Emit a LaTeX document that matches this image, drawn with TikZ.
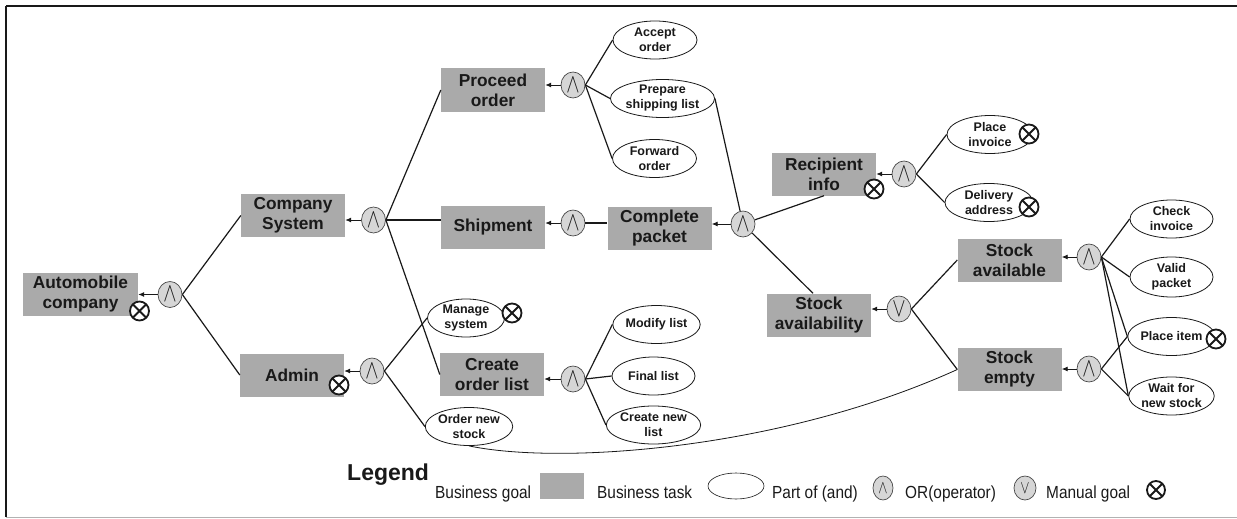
\documentclass[tikz,border=0pt]{standalone}
\usepackage{fontspec}
\usepackage{graphicx}
\setmainfont{Liberation Sans}
\newfontfamily\legendfont[FakeStretch=0.88]{Liberation Sans}
\usetikzlibrary{shapes.geometric,arrows.meta,calc}
\definecolor{goalgray}{RGB}{170,170,170}
\definecolor{opgray}{RGB}{214,214,214}
\definecolor{ink}{RGB}{25,25,25}
\newcommand\andsym{\scalebox{1.15}[1.55]{$\wedge$}}
\newcommand\orsym{\scalebox{1.15}[1.55]{$\vee$}}
\begin{document}
\begin{tikzpicture}[x=1pt,y=-1pt,
 goal/.style={rectangle, fill=goalgray, minimum width=104pt, minimum height=43pt, inner sep=0pt, align=center, text=ink, font=\fontsize{17.3}{20}\selectfont\bfseries},
 task/.style={ellipse, draw=ink, fill=white, line width=0.8pt, minimum width=84pt, minimum height=38pt, inner sep=0pt, align=center, text=ink, font=\fontsize{12.5}{15}\selectfont\bfseries},
 op/.style={ellipse, draw=ink!80, fill=opgray, line width=0.7pt, minimum width=24pt, minimum height=26pt, inner sep=0pt, text=ink, font=\fontsize{16}{16}\selectfont},
 manual/.style={circle, draw=ink, line width=1.8pt, fill=white, minimum size=19pt, inner sep=0pt, path picture={\draw[ink, line width=1.8pt] (path picture bounding box.north west) -- (path picture bounding box.south east) (path picture bounding box.north east) -- (path picture bounding box.south west);}},
 link/.style={draw=ink, line width=1.2pt},
 arr/.style={draw=ink, line width=0.9pt, -{Latex[length=6pt,width=5pt]}},
 legtext/.style={anchor=base west, inner sep=0pt, text=ink, font=\legendfont\fontsize{17.5}{20}\selectfont},
]
\useasboundingbox (0,0) rectangle (1237,519);
% frame
\draw[ink, line width=2pt] (6,6) -- (1237,6);
\draw[ink, line width=1.2pt] (6,6) -- (6,517);
\draw[gray!60, line width=0.8pt] (6,517) -- (1237,517);

% goals
\node[goal, minimum width=115pt] (auto) at (80.5,294.5) {Automobile\\company};
\node[goal] (company) at (293,215.5) {Company\\System};
\node[goal] (admin) at (292,375) {Admin};
\node[goal] (proceed) at (493,90) {Proceed\\order};
\node[goal] (shipment) at (493,227) {Shipment};
\node[goal] (complete) at (659.5,228) {Complete\\packet};
\node[goal] (createorder) at (492,374.5) {Create\\order list};
\node[goal] (recipient) at (824,174) {Recipient\\info};
\node[goal] (stockav) at (819,315) {Stock\\availability};
\node[goal] (stockavail) at (1009.5,260) {Stock\\available};
\node[goal] (stockempty) at (1009.5,369.5) {Stock\\empty};

% operators
\node[op] (autoop) at (170,294.5) {\andsym};
\node[op] (companyop) at (373.5,220) {\andsym};
\node[op] (adminop) at (372,371) {\andsym};
\node[op] (proceedop) at (573,85) {\andsym};
\node[op] (shipop) at (573,223) {\andsym};
\node[op] (createop) at (573,379) {\andsym};
\node[op] (completeop) at (743,224) {\andsym};
\node[op] (recipop) at (904,174) {\andsym};
\node[op] (saop) at (899,309) {\orsym};
\node[op] (saavop) at (1089,257) {\andsym};
\node[op] (seop) at (1089,369) {\andsym};

% tasks
\node[task] (accept) at (655,40) {Accept\\order};
\node[task, minimum width=101pt] (prepare) at (662.5,98.5) {Prepare\\shipping list};
\node[task] (forward) at (654.5,158.5) {Forward\\order};
\node[task, minimum width=77pt] (manage) at (466,318) {Manage\\system};
\node[task, minimum width=82pt] (ordernew) at (469,426.5) {Order new\\stock};
\node[task, minimum width=83pt] (modify) at (656.5,324.5) {Modify list};
\node[task, minimum width=83pt] (final) at (653.5,376) {Final list};
\node[task, minimum width=83pt] (createnew) at (653.5,425) {Create new\\list};
\node[task, minimum width=86pt] (placeinv) at (990,134.5) {Place\\invoice};
\node[task, minimum width=88pt] (delivery) at (989,202.5) {Delivery\\address};
\node[task, minimum width=83pt] (check) at (1171.5,219) {Check\\invoice};
\node[task, minimum width=83pt, minimum height=40pt] (valid) at (1171.5,277) {Valid\\packet};
\node[task, minimum width=83pt] (placeitem) at (1171.5,336.5) {Place item};
\node[task, minimum width=83pt] (wait) at (1171.5,396) {Wait for\\new stock};

% manual goal marks
\node[manual] (m1) at (139.5,311) {};
\node[manual] (m2) at (339,385) {};
\node[manual] (m3) at (512,313) {};
\node[manual] (m4) at (874,189) {};
\node[manual] (m5) at (1029,134) {};
\node[manual] (m6) at (1029,207) {};
\node[manual] (m7) at (1216,339) {};

% arrows op -> parent
\draw[arr] (autoop.west) -- (autoop.west -| auto.east);
\draw[arr] (companyop.west) -- (companyop.west -| company.east);
\draw[arr] (adminop.west) -- (adminop.west -| admin.east);
\draw[arr] (proceedop.west) -- (proceedop.west -| proceed.east);
\draw[arr] (shipop.west) -- (shipop.west -| shipment.east);
\draw[arr] (createop.west) -- (createop.west -| createorder.east);
\draw[arr] (completeop.west) -- (completeop.west -| complete.east);
\draw[arr] (recipop.west) -- (recipop.west -| recipient.east);
\draw[arr] (saop.west) -- (saop.west -| stockav.east);
\draw[arr] (saavop.west) -- (saavop.west -| stockavail.east);
\draw[arr] (seop.west) -- (seop.west -| stockempty.east);

% links op -> children
\draw[link] (autoop.east) -- (company.west);
\draw[link] (autoop.east) -- (admin.west);
\draw[link] (companyop.east) -- (proceed.west);
\draw[link] (companyop.east) -- (companyop.east -| shipment.west);
\draw[link] (companyop.east) -- (createorder.west);
\draw[link] (adminop.east) -- (manage.west);
\draw[link] (adminop.east) -- (ordernew.west);
\draw[link] (proceedop.east) -- (accept.west);
\draw[link] (proceedop.east) -- (prepare.west);
\draw[link] (proceedop.east) -- (forward.west);
\draw[link] (shipop.east) -- (shipop.east -| complete.west);
\draw[link] (createop.east) -- (modify.west);
\draw[link] (createop.east) -- (final.west);
\draw[link] (createop.east) -- (createnew.west);
\draw[link] (completeop) -- (prepare.east);
\draw[link] (completeop) -- (recipient.south);
\draw[link] (completeop) -- ([xshift=-6pt]stockav.north);
\draw[link] (recipop.east) -- (placeinv.west);
\draw[link] (recipop.east) -- (delivery.west);
\draw[link] (saop.east) -- (stockavail.west);
\draw[link] (saop.east) -- (stockempty.west);
\draw[link] (saavop.east) -- (check.west);
\draw[link] (saavop.east) -- (valid.west);
\draw[link] (saavop.east) -- (placeitem.west);
\draw[link] (saavop.east) -- (wait.west);
\draw[link] (seop.east) -- (placeitem.west);
\draw[link] (seop.east) -- (wait.west);
\draw[draw=ink, line width=0.8pt] (ordernew.south) .. controls (560,465) and (780,450) .. (stockempty.west);

% legend
\node[anchor=base west, inner sep=0pt, text=ink, font=\fontsize{23}{26}\selectfont\bfseries] (legend) at (347,480) {Legend};
\node[legtext] (lgoal) at (435,498) {Business goal};
\node[rectangle, fill=goalgray, minimum width=44pt, minimum height=26pt, inner sep=0pt] (lgoalbox) at (562,486) {};
\node[legtext] (ltask) at (597,498) {Business task};
\node[ellipse, draw=ink, line width=0.6pt, minimum width=56pt, minimum height=26pt, inner sep=0pt] (ltaskell) at (736,486) {};
\node[legtext] (land) at (772,498) {Part of (and)};
\node[op, minimum width=20pt, minimum height=24pt, font=\fontsize{13}{13}\selectfont] (landop) at (883,488) {\andsym};
\node[legtext] (lor) at (905,498) {OR(operator)};
\node[op, minimum width=22pt, minimum height=24pt, font=\fontsize{13}{13}\selectfont] (lorop) at (1025,488) {\orsym};
\node[legtext] (lman) at (1046,498) {Manual goal};
\node[manual, minimum size=18pt] (lmanmark) at (1156,490) {};
\end{tikzpicture}
\end{document}
